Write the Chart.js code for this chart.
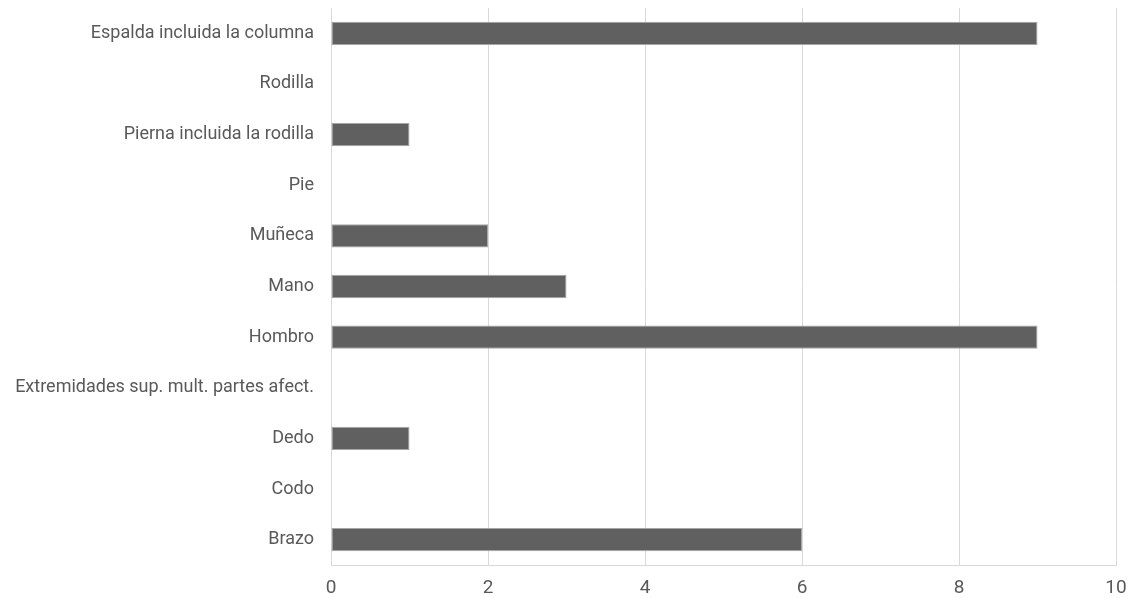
<!DOCTYPE html>
<html>
<head>
<meta charset="utf-8">
<script src="https://cdn.jsdelivr.net/npm/chart.js@4"></script>
<style>
html,body{margin:0;padding:0;background:#fff;overflow:hidden;}
#wrap{width:1139px;height:598px;position:relative;}
</style>
</head>
<body>
<div id="wrap"><canvas id="c"></canvas></div>
<script>
const categories = [
  "Espalda incluida la columna",
  "Rodilla",
  "Pierna incluida la rodilla",
  "Pie",
  "Muñeca",
  "Mano",
  "Hombro",
  "Extremidades sup. mult. partes afect.",
  "Dedo",
  "Codo",
  "Brazo"
];
const values = [9, 0, 1, 0, 2, 3, 9, 0, 1, 0, 6];
const xTicks = [0, 2, 4, 6, 8, 10];

const FONT = "'Roboto', sans-serif";

new Chart(document.getElementById('c'), {
  type: 'bar',
  data: {
    labels: categories,
    datasets: [{
      data: values,
      backgroundColor: '#606060',
      borderColor: '#a6a6a6',
      borderWidth: 1,
      borderSkipped: false,
      categoryPercentage: 0.46,
      barPercentage: 1
    }]
  },
  options: {
    indexAxis: 'y',
    responsive: true,
    maintainAspectRatio: false,
    animation: false,
    layout: { padding: { top: 8, right: 23, left: 0, bottom: 0 } },
    plugins: { legend: { display: false }, tooltip: { enabled: false } },
    scales: {
      x: {
        min: 0, max: 10,
        afterBuildTicks: s => { s.ticks = xTicks.map(v => ({ value: v })); },
        afterFit: s => { s.height = 33; s.paddingLeft = 0; s.paddingRight = 0; },
        grid: { color: '#d9d9d9', lineWidth: 1, drawTicks: false },
        border: { display: true, color: '#d9d9d9' },
        ticks: { padding: 12, color: '#595959', font: { family: FONT, size: 19 } }
      },
      y: {
        afterFit: s => { s.width = 331; s.paddingTop = 0; s.paddingBottom = 0; },
        grid: { display: false, drawTicks: false },
        border: { display: true, color: '#d9d9d9' },
        ticks: { padding: 17, color: '#595959', font: { family: FONT, size: 18 }, autoSkip: false }
      }
    }
  }
});
</script>
</body>
</html>
